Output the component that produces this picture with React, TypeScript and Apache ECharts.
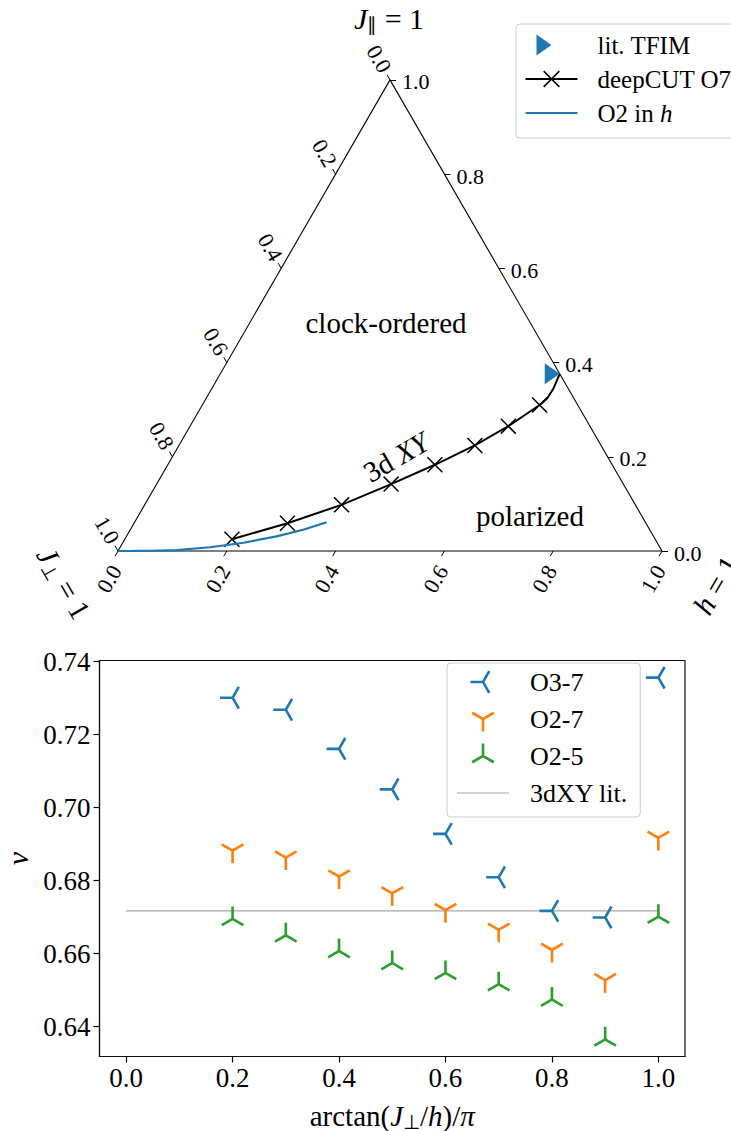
import React, { useEffect, useRef } from 'react';
import * as echarts from 'echarts';

const SERIF = 'Liberation Serif, Times New Roman, serif';
const SQ = Math.sqrt(3) / 2;

// ---------- Ternary panel (h on bottom axis, J∥ on right axis, J⊥ = 1 − h − J∥)
const ternaryTicks = [0, 0.2, 0.4, 0.6, 0.8, 1.0];
const cornerH = [0, 1, 0, 0];
const cornerJpar = [0, 0, 1, 0];
const tfimH = [0.624];
const tfimJpar = [0.376];
const deepCutH = [0.197, 0.282, 0.362, 0.431, 0.491, 0.544, 0.585, 0.62, 0.627, 0.628, 0.624];
const deepCutJpar = [0.025, 0.059, 0.098, 0.142, 0.183, 0.224, 0.265, 0.31, 0.323, 0.345, 0.376];
const deepCutMarked = [1, 1, 1, 1, 1, 1, 1, 1, 0, 0, 0];
const o2H = [0, 0.03, 0.06, 0.107, 0.165, 0.222, 0.276, 0.318, 0.353];
const o2Jpar = [0, 0.0001, 0.0005, 0.002, 0.008, 0.0175, 0.031, 0.045, 0.061];

// ---------- Critical exponent panel
const angleX = [0.2, 0.3, 0.4, 0.5, 0.6, 0.7, 0.8, 0.9, 1.0];
const nuO37 = [0.7301, 0.7268, 0.7161, 0.705, 0.6928, 0.6809, 0.6717, 0.6699, 0.7356];
const nuO27 = [0.6882, 0.6863, 0.6811, 0.6765, 0.6719, 0.6665, 0.661, 0.6527, 0.6917];
const nuO25 = [0.6695, 0.665, 0.6607, 0.6574, 0.6547, 0.6516, 0.6474, 0.6365, 0.6701];
const litX = [0, 1.0];
const nu3dXY = 0.6717;
const xTicks = [0, 0.2, 0.4, 0.6, 0.8, 1.0];
const yTicks = [0.64, 0.66, 0.68, 0.7, 0.72, 0.74];

const BLUE = '#1f77b4';
const ORANGE = '#ff7f0e';
const GREEN = '#2ca02c';

const tern = (h: number, j: number) => [h + 0.5 * j, SQ * j];

const f = (n: number) => n.toFixed(4);
function armsPath(angles: number[], len: number, hw: number): string {
  let d = 'M-1 -1 M1 1';
  for (const a of angles) {
    const t = (a * Math.PI) / 180;
    const dx = Math.cos(t) * len, dy = Math.sin(t) * len;
    const ux = Math.cos(t), uy = Math.sin(t);
    const px = -uy * hw, py = ux * hw;
    const sx = -ux * hw * 0.5, sy = -uy * hw * 0.5;
    d += ` M${f(sx + px)} ${f(sy + py)} L${f(dx + px)} ${f(dy + py)} L${f(dx - px)} ${f(dy - py)} L${f(sx - px)} ${f(sy - py)} Z`;
  }
  return 'path://' + d;
}
const TRI_LEFT = armsPath([180, -60, 60], 1, 0.105);
const TRI_DOWN = armsPath([90, 210, -30], 1, 0.105);
const TRI_UP = armsPath([-90, 150, 30], 1, 0.105);
const CROSS = armsPath([45, 135, 225, 315], Math.SQRT2, 0.1);
const TRI_RIGHT = 'path://M1 0 M-1 -0.7 L0 0 L-1 0.7 Z';

function buildOption() {
  const L = 6 / 544;
  const tickLines: any[] = [];
  ternaryTicks.forEach((v) => {
    const b = tern(v, 0);
    tickLines.push({ coords: [b, [b[0] - 0.5 * L, b[1] - SQ * L]] });
    const r = tern(1 - v, v);
    tickLines.push({ coords: [r, [r[0] + L, r[1]]] });
    const l = tern(0, 1 - v);
    tickLines.push({ coords: [l, [l[0] - 0.5 * L, l[1] + SQ * L]] });
  });

  const labelSeries = (pts: number[][], label: any) => ({
    type: 'scatter',
    xAxisIndex: 0,
    yAxisIndex: 0,
    silent: true,
    clip: false,
    symbol: 'circle',
    symbolSize: 0,
    itemStyle: { color: 'transparent', opacity: 1 },
    data: pts.map((p, i) => [p[0], p[1], ternaryTicks[i].toFixed(1)]),
    label: {
      show: true,
      formatter: (p: any) => p.value[2],
      color: '#000',
      fontSize: 22,
      fontFamily: SERIF,
      ...label,
    },
    z: 5,
  });

  const txt = (extra: any) => ({ fontFamily: SERIF, fill: '#000', ...extra });
  const cornerRich = {
    i: { fontSize: 30, fontFamily: SERIF, fill: '#000', fontStyle: 'italic', lineHeight: 32 },
    s: { fontSize: 19, fontFamily: SERIF, fill: '#000', lineHeight: 14, verticalAlign: 'bottom' },
    n: { fontSize: 30, fontFamily: SERIF, fill: '#000', lineHeight: 32 },
  };

  const option: any = {
    animation: false,
    textStyle: { fontFamily: SERIF, color: '#000' },
    grid: [
      { left: 118, top: 551 - 544 * SQ, width: 544, height: 544 * SQ, outerBoundsMode: 'none', containLabel: false },
      {
        left: 99.5,
        top: 660.5,
        width: 585.5,
        height: 396,
        show: true,
        borderColor: '#111',
        borderWidth: 1.2,
        outerBoundsMode: 'none',
        containLabel: false,
      },
    ],
    xAxis: [
      { gridIndex: 0, type: 'value', min: 0, max: 1, show: false },
      {
        gridIndex: 1,
        type: 'value',
        min: -0.05,
        max: 1.05,
        axisLine: { show: true, onZero: false, lineStyle: { color: '#111', width: 1.2 } },
        axisTick: { show: true, customValues: xTicks, length: 6, lineStyle: { color: '#000', width: 1.2 } },
        axisLabel: {
          customValues: xTicks,
          formatter: (v: number) => v.toFixed(1),
          fontSize: 27,
          fontFamily: SERIF,
          color: '#000',
          margin: 8,
        },
        splitLine: { show: false },
        name: 'arctan({i|J}{s|⊥}/{i|h})/{i|π}',
        nameLocation: 'middle',
        nameGap: 43,
        nameTextStyle: {
          fontSize: 29,
          fontFamily: SERIF,
          color: '#000',
          lineHeight: 32,
          rich: {
            i: { fontStyle: 'italic', fontSize: 29, fontFamily: SERIF, color: '#000', lineHeight: 32 },
            s: { fontSize: 20, fontFamily: SERIF, color: '#000', lineHeight: 14, verticalAlign: 'bottom' },
          },
        },
      },
    ],
    yAxis: [
      { gridIndex: 0, type: 'value', min: 0, max: SQ, show: false },
      {
        gridIndex: 1,
        type: 'value',
        min: 0.6318,
        max: 0.7403,
        axisLine: { show: true, onZero: false, lineStyle: { color: '#111', width: 1.2 } },
        axisTick: { show: true, customValues: yTicks, length: 6, lineStyle: { color: '#000', width: 1.2 } },
        axisLabel: {
          customValues: yTicks,
          formatter: (v: number) => v.toFixed(2),
          fontSize: 27,
          fontFamily: SERIF,
          color: '#000',
          margin: 9,
        },
        splitLine: { show: false },
        name: 'ν',
        nameLocation: 'middle',
        nameRotate: 90,
        nameGap: 66,
        nameTextStyle: { fontSize: 30, fontStyle: 'italic', fontFamily: SERIF, color: '#000' },
      },
    ],
    legend: [
      {
        orient: 'vertical',
        left: 516,
        top: 24,
        selectedMode: false,
        data: [
          { name: 'lit. TFIM' },
          { name: 'deepCUT O7' },
          { name: 'O2 in h', icon: 'path://M0 0 H52 V2 H0 Z' },
        ],
        itemWidth: 52,
        itemHeight: 21,
        itemGap: 4,
        padding: [6, 10, 10, 8.5],
        backgroundColor: 'rgba(255,255,255,0.8)',
        borderColor: '#cccccc',
        borderWidth: 1,
        borderRadius: 4,
        formatter: (name: string) => (name === 'O2 in h' ? 'O2 in {i|h}' : name),
        textStyle: {
          fontSize: 25,
          fontFamily: SERIF,
          color: '#000',
          lineHeight: 30,
          padding: [0, 0, 0, 15],
          rich: { i: { fontStyle: 'italic', fontSize: 25, fontFamily: SERIF, color: '#000', lineHeight: 30 } },
        },
      },
      {
        orient: 'vertical',
        left: 447,
        top: 663,
        selectedMode: false,
        data: [
          { name: 'O3-7' },
          { name: 'O2-7' },
          { name: 'O2-5' },
          { name: '3dXY lit.', icon: 'path://M0 0 H52 V1.2 H0 Z' },
        ],
        itemWidth: 52,
        itemHeight: 25,
        itemGap: 7,
        padding: [4, 12, 9, 10],
        backgroundColor: 'rgba(255,255,255,0.8)',
        borderColor: '#cccccc',
        borderWidth: 1,
        borderRadius: 4,
        textStyle: { fontSize: 26, fontFamily: SERIF, color: '#000', lineHeight: 30, padding: [0, 0, 0, 16] },
      },
    ],
    graphic: [
      {
        type: 'text',
        x: 386,
        y: 323,
        style: txt({ text: 'clock-ordered', fontSize: 29, align: 'center', verticalAlign: 'middle' }),
      },
      {
        type: 'text',
        x: 530,
        y: 516,
        style: txt({ text: 'polarized', fontSize: 29, align: 'center', verticalAlign: 'middle' }),
      },
      {
        type: 'text',
        x: 396,
        y: 457,
        rotation: Math.PI / 6,
        style: txt({
          text: '{n|3d }{i|XY}',
          align: 'center',
          verticalAlign: 'middle',
          rich: {
            n: { fontSize: 29, fontFamily: SERIF, fill: '#000' },
            i: { fontSize: 29, fontFamily: SERIF, fill: '#000', fontStyle: 'italic' },
          },
        }),
      },
      {
        type: 'text',
        x: 389,
        y: 18,
        style: txt({ text: '{i|J}{s|∥}{n| = 1}', align: 'center', verticalAlign: 'middle', rich: cornerRich }),
      },
      {
        type: 'text',
        x: 64,
        y: 583,
        rotation: -Math.PI / 3,
        style: txt({ text: '{i|J}{s|⊥}{n| = 1}', align: 'center', verticalAlign: 'middle', rich: cornerRich }),
      },
      {
        type: 'text',
        x: 716,
        y: 585,
        rotation: Math.PI / 3,
        style: txt({ text: '{i|h}{n| = 1}', align: 'center', verticalAlign: 'middle', rich: cornerRich }),
      },
    ],
    series: [
      {
        name: 'edges',
        type: 'line',
        xAxisIndex: 0,
        yAxisIndex: 0,
        silent: true,
        clip: false,
        symbol: 'none',
        data: cornerH.map((h, i) => tern(h, cornerJpar[i])),
        lineStyle: { color: '#000', width: 1.1 },
        z: 2,
      },
      {
        name: 'ticks',
        type: 'lines',
        coordinateSystem: 'cartesian2d',
        xAxisIndex: 0,
        yAxisIndex: 0,
        silent: true,
        clip: false,
        data: tickLines,
        lineStyle: { color: '#000', width: 1, opacity: 1 },
        z: 2,
      },
      labelSeries(ternaryTicks.map((v) => tern(v, 0)), {
        position: [-2, 16],
        rotate: 60,
        align: 'right',
        verticalAlign: 'middle',
      }),
      labelSeries(ternaryTicks.map((v) => tern(1 - v, v)), {
        position: [12, 2],
        align: 'left',
        verticalAlign: 'middle',
      }),
      labelSeries(ternaryTicks.map((v) => tern(0, 1 - v)), {
        position: [-4, -9],
        rotate: -60,
        align: 'right',
        verticalAlign: 'middle',
      }),
      {
        name: 'deepCUT O7',
        type: 'line',
        xAxisIndex: 0,
        yAxisIndex: 0,
        silent: true,
        clip: false,
        color: '#000',
        symbol: CROSS,
        symbolSize: 16,
        symbolKeepAspect: true,
        showSymbol: true,
        showAllSymbol: true,
        data: deepCutH.map((h, i) => ({
          value: tern(h, deepCutJpar[i]),
          symbol: deepCutMarked[i] ? CROSS : 'none',
        })),
        itemStyle: { color: '#000', opacity: 1 },
        lineStyle: { color: '#000', width: 2 },
        z: 3,
      },
      {
        name: 'O2 in h',
        type: 'line',
        xAxisIndex: 0,
        yAxisIndex: 0,
        silent: true,
        clip: false,
        color: BLUE,
        symbol: 'none',
        smooth: false,
        data: o2H.map((h, i) => tern(h, o2Jpar[i])),
        itemStyle: { color: BLUE },
        lineStyle: { color: BLUE, width: 2.2 },
        z: 4,
      },
      {
        name: 'lit. TFIM',
        type: 'scatter',
        xAxisIndex: 0,
        yAxisIndex: 0,
        silent: true,
        clip: false,
        symbol: TRI_RIGHT,
        symbolSize: 30,
        symbolKeepAspect: true,
        data: tfimH.map((h, i) => tern(h, tfimJpar[i])),
        itemStyle: { color: BLUE, opacity: 1 },
        z: 6,
      },
      {
        name: '3dXY lit.',
        type: 'line',
        xAxisIndex: 1,
        yAxisIndex: 1,
        silent: true,
        symbol: 'none',
        color: '#a6a6a6',
        data: litX.map((x) => [x, nu3dXY]),
        lineStyle: { color: '#a6a6a6', width: 1.2 },
        z: 2,
      },
      {
        name: 'O3-7',
        type: 'scatter',
        xAxisIndex: 1,
        yAxisIndex: 1,
        silent: true,
        symbol: TRI_LEFT,
        symbolSize: 25,
        symbolKeepAspect: true,
        data: angleX.map((x, i) => [x, nuO37[i]]),
        itemStyle: { color: BLUE, opacity: 1 },
        z: 3,
      },
      {
        name: 'O2-7',
        type: 'scatter',
        xAxisIndex: 1,
        yAxisIndex: 1,
        silent: true,
        symbol: TRI_DOWN,
        symbolSize: 25,
        symbolKeepAspect: true,
        data: angleX.map((x, i) => [x, nuO27[i]]),
        itemStyle: { color: ORANGE, opacity: 1 },
        z: 3,
      },
      {
        name: 'O2-5',
        type: 'scatter',
        xAxisIndex: 1,
        yAxisIndex: 1,
        silent: true,
        symbol: TRI_UP,
        symbolSize: 25,
        symbolKeepAspect: true,
        data: angleX.map((x, i) => [x, nuO25[i]]),
        itemStyle: { color: GREEN, opacity: 1 },
        z: 3,
      },
    ],
  };
  return option;
}

export default function App() {
  const ref = useRef<HTMLDivElement>(null);
  useEffect(() => {
    document.body.style.margin = '0';
    const chart = echarts.init(ref.current!, null, { renderer: 'svg' });
    chart.setOption(buildOption());
    return () => chart.dispose();
  }, []);
  return (
    <div
      ref={ref}
      style={{ position: 'absolute', left: 0, top: 0, width: 731, height: 1131, background: '#fff' }}
    />
  );
}
